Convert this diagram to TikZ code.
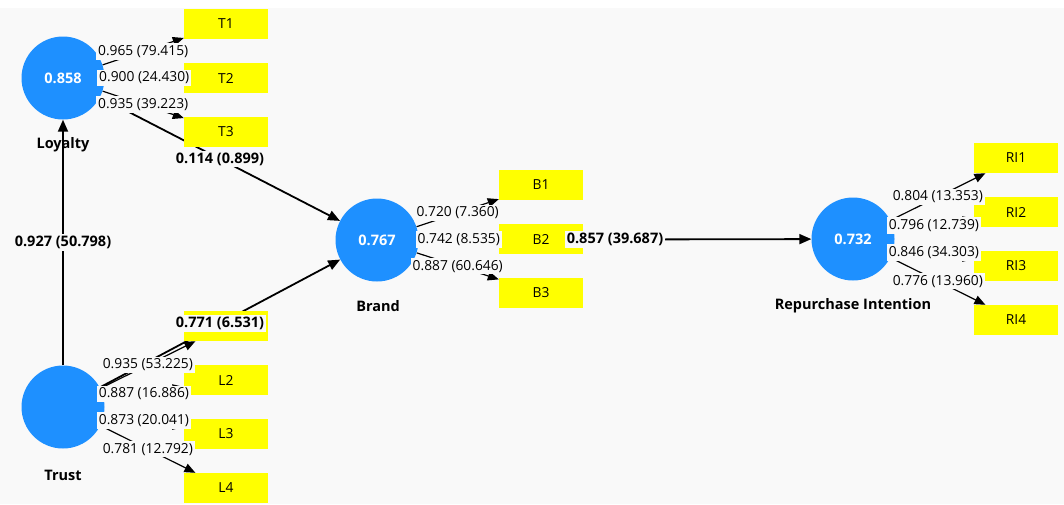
\documentclass[tikz,border=0pt]{standalone}
\usepackage{fontspec}
\setmainfont{Open Sans}
\usetikzlibrary{arrows.meta}
\pgfdeclarelayer{background}
\pgfdeclarelayer{foreground}
\pgfsetlayers{background,main,foreground}
\definecolor{plsblue}{RGB}{30,144,255}
\definecolor{plsyellow}{RGB}{255,255,0}
\definecolor{plsbg}{RGB}{249,249,249}
\newcommand{\plsfont}{\fontsize{13.8}{16}\selectfont}
\newcommand{\plsbold}{\fontsize{14.5}{17}\selectfont\bfseries}

\begin{document}
\begin{tikzpicture}[x=1pt,y=-1pt,
    latent/.style={circle,fill=plsblue,minimum size=83pt,inner sep=0pt,text=white,font=\plsbold},
    indicator/.style={rectangle,fill=plsyellow,minimum width=84pt,minimum height=30pt,inner sep=0pt,font=\plsfont},
    lvname/.style={font=\plsbold},
    loading/.style={line width=1.2pt,-{Triangle[length=11pt,width=9pt]}},
    pathcoef/.style={line width=1.8pt,-{Triangle[length=12pt,width=10pt]}},
    lbl/.style={fill=plsbg,inner xsep=2pt,inner ysep=2pt,font=\plsfont},
    blbl/.style={lbl,font=\plsbold}]
    %\draw[help lines] (0,0) grid[step=50] (1064,504);
    \useasboundingbox (0,0) rectangle (1064,504);
        \begin{pgfonlayer}{background}
        \fill[white] (0,0) rectangle (1064,504);
        \fill[plsbg] (0,8) rectangle (1064,504);
        \end{pgfonlayer}

        % latent variables
        \node[latent] (Loyalty) at (63,78) {0.858};
        \node[latent] (Trust) at (63,407) {};
        \node[latent] (Brand) at (377,240) {0.767};
        \node[latent] (RI) at (853,239) {0.732};
        \node[lvname] (LoyaltyName) at (63,145) {Loyalty};
        \node[lvname] (TrustName) at (63,475) {Trust};
        \node[lvname] (BrandName) at (378,306) {Brand};
        \node[lvname] (RIName) at (853,306) {Repurchase Intention};

        % indicators (L1 text is hidden under the path label)
        \node[indicator] (T1) at (226,24) {T1};
        \node[indicator] (T2) at (226,78) {T2};
        \node[indicator] (T3) at (226,132) {T3};
        \node[indicator] (L1) at (226,326) {};
        \node[indicator] (L2) at (226,380) {L2};
        \node[indicator] (L3) at (226,434) {L3};
        \node[indicator] (L4) at (226,488) {L4};
        \node[indicator] (B1) at (541,185) {B1};
        \node[indicator] (B2) at (541,239) {B2};
        \node[indicator] (B3) at (541,293) {B3};
        \node[indicator] (RI1) at (1016,158) {RI1};
        \node[indicator] (RI2) at (1016,212) {RI2};
        \node[indicator] (RI3) at (1016,266) {RI3};
        \node[indicator] (RI4) at (1016,320) {RI4};

        \begin{pgfonlayer}{background}
        \draw[pathcoef] (Trust) -- (Loyalty);
        \draw[pathcoef] (Loyalty) -- (Brand);
        \draw[pathcoef] (Trust) -- (Brand);
        \draw[pathcoef] (Brand) -- (RI);
        \draw[loading] (Loyalty) -- (T1);
        \draw[loading] (Loyalty) -- (T2);
        \draw[loading] (Loyalty) -- (T3);
        \draw[loading] (Trust) -- (L1);
        \draw[loading] (Trust) -- (L2);
        \draw[loading] (Trust) -- (L3);
        \draw[loading] (Trust) -- (L4);
        \draw[loading] (Brand) -- (B1);
        \draw[loading] (Brand) -- (B2);
        \draw[loading] (Brand) -- (B3);
        \draw[loading] (RI) -- (RI1);
        \draw[loading] (RI) -- (RI2);
        \draw[loading] (RI) -- (RI3);
        \draw[loading] (RI) -- (RI4);
        \end{pgfonlayer}

        \begin{pgfonlayer}{foreground}
        \path (Trust) -- (Loyalty) node[midway,blbl] {0.927 (50.798)};
        \path (Loyalty) -- (Brand) node[midway,blbl] {0.114 (0.899)};
        \path (Trust) -- (Brand) node[midway,blbl] {0.771 (6.531)};
        \path (Brand) -- (RI) node[midway,blbl] {0.857 (39.687)};
        \path (Loyalty) -- (T1) node[midway,lbl] {0.965 (79.415)};
        \path (Loyalty) -- (T2) node[midway,lbl] {0.900 (24.430)};
        \path (Loyalty) -- (T3) node[midway,lbl] {0.935 (39.223)};
        \path (Trust) -- (L1) node[midway,lbl] {0.935 (53.225)};
        \path (Trust) -- (L2) node[midway,lbl] {0.887 (16.886)};
        \path (Trust) -- (L3) node[midway,lbl] {0.873 (20.041)};
        \path (Trust) -- (L4) node[midway,lbl] {0.781 (12.792)};
        \path (Brand) -- (B1) node[midway,lbl] {0.720 (7.360)};
        \path (Brand) -- (B2) node[midway,lbl] {0.742 (8.535)};
        \path (Brand) -- (B3) node[midway,lbl] {0.887 (60.646)};
        \path (RI) -- (RI1) node[midway,lbl] {0.804 (13.353)};
        \path (RI) -- (RI2) node[midway,lbl] {0.796 (12.739)};
        \path (RI) -- (RI3) node[midway,lbl] {0.846 (34.303)};
        \path (RI) -- (RI4) node[midway,lbl] {0.776 (13.960)};
        \end{pgfonlayer}
\end{tikzpicture}
\end{document}
